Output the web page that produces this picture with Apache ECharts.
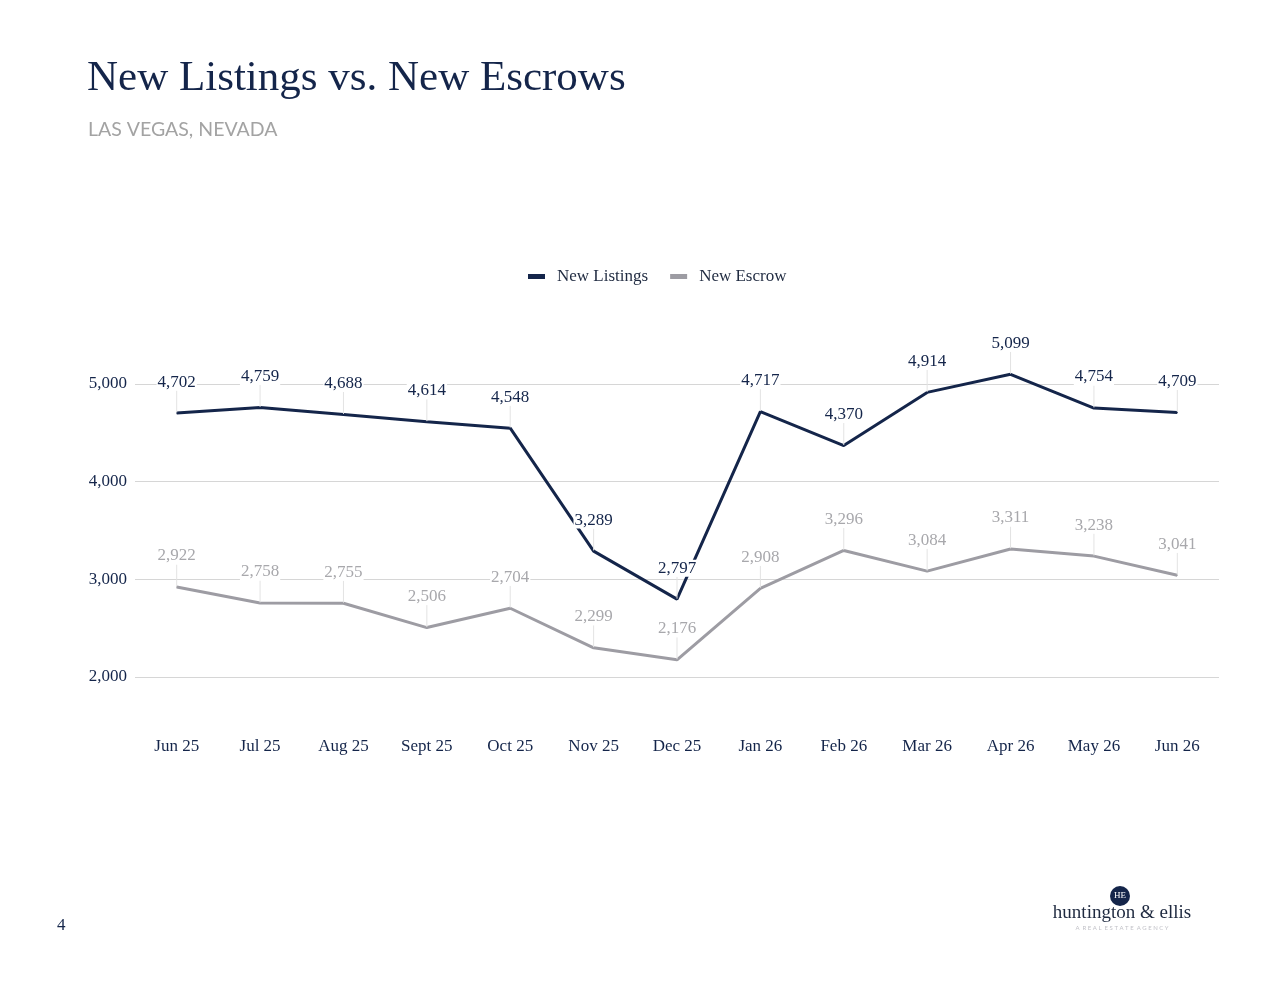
<!DOCTYPE html>
<html>
<head>
<meta charset="utf-8">
<script src="https://cdn.jsdelivr.net/npm/echarts@6/dist/echarts.min.js"></script>
<style>
    html, body { margin: 0; padding: 0; background: #fff; }
    #chart { width: 1280px; height: 989px; }
</style>
</head>
<body>
<div id="chart"></div>
<script>
    var months = ['Jun 25', 'Jul 25', 'Aug 25', 'Sept 25', 'Oct 25', 'Nov 25', 'Dec 25',
        'Jan 26', 'Feb 26', 'Mar 26', 'Apr 26', 'May 26', 'Jun 26'];
    var newListings = [4702, 4759, 4688, 4614, 4548, 3289, 2797, 4717, 4370, 4914, 5099, 4754, 4709];
    var newEscrow = [2922, 2758, 2755, 2506, 2704, 2299, 2176, 2908, 3296, 3084, 3311, 3238, 3041];

    var navy = '#14254a';
    var grey = '#9d9ca3';
    var serif = '"Liberation Serif", "DejaVu Serif", serif';

    var myChart = echarts.init(document.getElementById('chart'));

    function lineSeries(name, data, color, labelColor) {
        return {
            name: name,
            type: 'line',
            data: data,
            clip: false,
            symbol: 'circle',
            symbolSize: 1,
            showSymbol: true,
            itemStyle: { color: color },
            lineStyle: { width: 3, color: color },
            label: {
                show: true,
                position: 'top',
                distance: 2,
                color: labelColor,
                fontFamily: serif,
                fontSize: 17,
                backgroundColor: '#fff',
                padding: [0, 1],
                formatter: function (p) {
                    return echarts.format.addCommas(p.value);
                }
            },
            labelLayout: { dy: -20 },
            labelLine: {
                show: true,
                lineStyle: { color: '#e3e3e3', width: 1 }
            },
            emphasis: { disabled: true }
        };
    }

    var option = {
        backgroundColor: '#fff',
        animation: false,
        title: [{
            left: 87,
            top: 57,
            padding: 0,
            text: 'New Listings vs. New Escrows',
            textStyle: { color: navy, fontFamily: serif, fontSize: 43, fontWeight: 'normal' }
        }, {
            left: 88,
            top: 120,
            padding: 0,
            text: 'LAS VEGAS, NEVADA',
            textStyle: { color: '#a3a3a3', fontFamily: 'Lato, "Open Sans", sans-serif', fontSize: 19.5, fontWeight: 'normal' }
        }],
        legend: {
            top: 263,
            left: 523,
            itemWidth: 17,
            itemHeight: 5,
            itemGap: 22,
            icon: 'rect',
            textStyle: { color: '#1f2a40', fontFamily: serif, fontSize: 17, padding: [0, 0, 0, 7] },
            data: ['New Listings', 'New Escrow']
        },
        grid: {
            left: 135,
            right: 61,
            top: 384,
            bottom: 312
        },
        xAxis: {
            type: 'category',
            data: months,
            boundaryGap: true,
            axisLine: { show: false },
            axisTick: { show: false },
            axisLabel: { color: navy, fontFamily: serif, fontSize: 17, margin: 61 }
        },
        yAxis: {
            type: 'value',
            min: 2000,
            max: 5000,
            interval: 1000,
            axisLine: { show: false },
            axisTick: { show: false },
            axisLabel: {
                color: navy, fontFamily: serif, fontSize: 17, margin: 8,
                formatter: function (v) { return echarts.format.addCommas(v); }
            },
            splitLine: { lineStyle: { color: '#d6d6d6', width: 1 } }
        },
        series: [
            lineSeries('New Listings', newListings, navy, navy),
            lineSeries('New Escrow', newEscrow, grey, '#a8a8ac')
        ],
        graphic: [
            { type: 'text', left: 57, top: 917, style: { text: '4', fill: navy, font: '17px ' + serif } },
            { type: 'circle', shape: { cx: 1120, cy: 896, r: 10 }, style: { fill: navy } },
            { type: 'text', x: 1120, y: 896, style: { text: 'HE', fill: '#fff', font: '9px ' + serif, align: 'center', verticalAlign: 'middle' } },
            { type: 'text', x: 1122, y: 913, style: { text: 'huntington & ellis', fill: '#1f2a40', font: '19px ' + serif, align: 'center', verticalAlign: 'middle' } },
            { type: 'text', x: 1122, y: 928, style: { text: 'A  R E A L  E S T A T E  A G E N C Y', fill: '#c2c2c8', font: '6px Lato, sans-serif', align: 'center', verticalAlign: 'middle' } }
        ]
    };

    myChart.setOption(option);
</script>
</body>
</html>
